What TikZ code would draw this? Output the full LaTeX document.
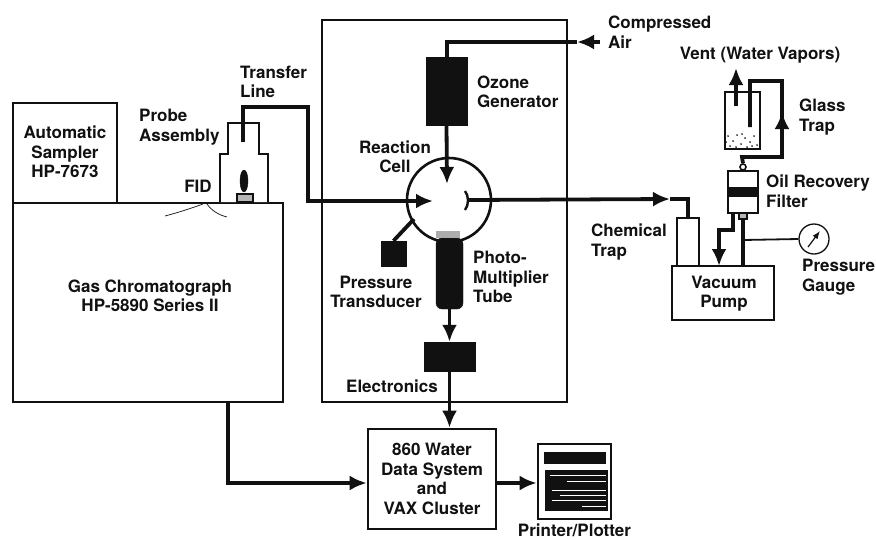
\documentclass[tikz,border=0pt]{standalone}
\usepackage{fontspec}
\setmainfont{TeX Gyre Heros}
\usetikzlibrary{arrows.meta,calc,positioning,shapes.geometric}
\definecolor{ink}{HTML}{111111}
\tikzset{
  lab/.style={font=\bfseries\fontsize{17}{19.5}\selectfont,align=center,text=ink,inner sep=0pt},
  leftlab/.style={lab,align=left,anchor=west},
  basebox/.style={draw=ink,fill=white,line width=1.6pt,inner sep=0pt},
  heavybox/.style={draw=ink,fill=white,line width=2.6pt,inner sep=0pt},
  solidbox/.style={draw=ink,fill=ink,inner sep=0pt},
  dithered/.style={basebox,fill=ink!30},
  pipe/.style={line width=3.8pt,draw=ink},
  arrow/.style={pipe,-{Latex[length=17pt,width=15pt]}},
  thinline/.style={line width=0.7pt,draw=ink},
  grain/.style={circle,fill=ink,inner sep=0.7pt}
}
\newcommand{\boxat}[6][basebox]{\node[#1,minimum width=#5-#3,minimum height=#6-#4] (#2) at ({(#3+#5)/2},{(#4+#6)/2}) {};}
\begin{document}
\begin{tikzpicture}[x=1pt,y=-1pt]
  \useasboundingbox (0,0) rectangle (876,539);
  % boxes
  \boxat{sampler}{13}{103}{117}{203}
  \boxat[heavybox]{gc}{13}{203}{283}{402}
  \boxat[heavybox]{cabinet}{322}{20}{567}{402}
  \boxat[heavybox]{datasys}{368}{429}{496}{529}
  \boxat{pump}{672}{266}{774}{320}
  \boxat{chemtrap}{677}{218}{699}{266}

  % probe and flame
  \draw[basebox] (220,202) -- (220,154) -- (228,154) -- (228,123) -- (259,123) -- (259,154) -- (268,154) -- (268,202);
  \node[solidbox,ellipse,minimum width=8pt,minimum height=22pt] (flame) at (244,181) {};
  \boxat[dithered]{burner}{237}{194}{253}{202}
  \draw[thinline] (165,216) .. controls (180,212) and (192,208) .. (203,204);
  \draw[thinline] (207,204) .. controls (212,211) and (219,215) .. (227,217);

  % cell
  \node[draw=ink,fill=white,circle,line width=2.6pt,minimum size=84pt,inner sep=0pt] (cell) at (449,200) {};
  \boxat[solidbox]{ozone}{426}{57}{467}{125}
  \node[solidbox,rounded corners=6pt,minimum width=27pt,minimum height=71pt] (pmt) at (449.5,273.5) {};
  \node[fill=ink!35,inner sep=0pt,minimum width=24pt,minimum height=7pt] (window) at (448,234) {};
  \boxat[solidbox]{transducer}{381}{241}{406}{266}
  \boxat[solidbox]{electronics}{424}{342}{475}{371}
  \draw[line width=2.4pt,draw=ink] (465,191) .. controls (469,196) and (469,205) .. (465,210);

  % right side parts
  \boxat{filter}{728}{171}{758}{213}
  \boxat[solidbox]{filterband}{728}{187}{758}{196}
  \node[basebox,circle,minimum size=6pt] (filtertop) at (743,167) {};
  \boxat[dithered]{filterfoot}{739}{213}{747}{219}
  \boxat{glasstrap}{725}{92}{760}{149}
  \foreach \gx/\gy in {728/136,733/141,737/135,741/144,745/138,750/142,754/136,757/145,730/146,736/147,747/147,752/146,742/134,726/142}
    \node[grain] (g\gx) at (\gx,\gy) {};
  \node[draw=ink,fill=white,circle,line width=1.3pt,minimum size=30pt,inner sep=0pt] (gauge) at (814,239) {};

  % printer
  \boxat[heavybox]{printer}{538}{444}{611}{519}
  \boxat[solidbox]{printhead}{544}{452}{605}{463}
  \boxat[solidbox]{printbody}{545}{470}{607}{510}
  \foreach \ya/\xa/\xb in {475/550/606,481/567/606,490/552/606,495/560/606,500/552/606,506/582/606}
    \draw[white,line width=0.8pt] (\xa,\ya) -- (\xb,\ya);

  % connectors
  \coordinate (airin) at (600,42);
  \coordinate (airtip) at (577,42);
  \coordinate (airbend) at (447,42);
  \draw[arrow] (airin) -- (airtip);
  \draw[pipe] (airtip) -- (airbend) -- (ozone.north -| airbend);
  \coordinate (ozonetip) at (447,184);
  \draw[arrow] (ozone.south) -- (ozonetip);
  \coordinate (probein) at (243,142);
  \coordinate (celltip) at (433,201);
  \draw[arrow] (probein) -- (243,107) -- (308,107) -- (308,201) -- (celltip);
  \coordinate (celljoint) at (414,219);
  \draw[pipe] (celljoint) -- (transducer.north);
  \draw[arrow] (pmt.south) -- (electronics.north -| pmt.south);
  \draw[arrow] (electronics.south) -- (datasys.north -| electronics.south);
  \draw[arrow] (gc.south -| 228,402) -- (228,483) -- (datasys.west |- 228,483);
  \draw[arrow] (datasys.east |- 0,483) -- (printer.west |- 0,483);
  \coordinate (detout) at (468,200);
  \coordinate (traptip) at (670,199);
  \draw[arrow] (detout) -- (traptip);
  \draw[pipe] (traptip) -- (688,199) -- (chemtrap.north -| 688,0);
  \draw[pipe] (filtertop.north) -- (742,157) -- (782,157) -- (782,81) -- (750,81) -- (750,127);
  \coordinate (flowtip) at (782,112);
  \draw[arrow] (782,130) -- (flowtip);
  \coordinate (ventin) at (736,106);
  \coordinate (ventout) at (736,68);
  \draw[arrow] (ventin) -- (ventout);
  \draw[arrow] (733,213) -- (733,230) -- (719,230) -- (719,266);
  \draw[pipe] (filterfoot.south) -- (743,266);
  \draw[line width=1.8pt,draw=ink] (743,240) -- (gauge.west);
  \draw[line width=1.2pt,draw=ink,-{Latex[length=8pt,width=6pt]}] (808,247) -- (820,231);

  % labels
  \node[lab] (automatic) at (65,152) {Automatic\\Sampler\\HP-7673};
  \node[lab] (fid) at (198,186) {FID};
  \node[leftlab] (probe) at (139,127) {Probe\\Assembly};
  \node[leftlab] (transfer) at (240,82) {Transfer\\Line};
  \node[lab] (chromatograph) at (150,296) {Gas Chromatograph\\HP-5890 Series II};
  \node[lab] (reaction) at (395,157) {Reaction\\Cell};
  \node[leftlab] (compressed) at (608,32) {Compressed\\Air};
  \node[leftlab] (generator) at (477,92) {Ozone\\Generator};
  \node[lab] (transducerlab) at (376,292) {Pressure\\Transducer};
  \node[leftlab] (photo) at (473,277) {Photo-\\Multiplier\\Tube};
  \node[lab] (electronicslab) at (392,386) {Electronics};
  \node[lab] (water) at (432,479) {860 Water\\Data System\\and\\VAX Cluster};
  \node[lab] (plotter) at (574.5,530) {Printer/Plotter};
  \node[leftlab] (chemical) at (591,242) {Chemical\\Trap};
  \node[lab] (vacuum) at (724,293.5) {Vacuum\\Pump};
  \node[lab] (vent) at (760,55) {Vent (Water Vapors)};
  \node[leftlab] (glass) at (799,117) {Glass\\Trap};
  \node[leftlab] (oil) at (766,191) {Oil Recovery\\Filter};
  \node[leftlab] (pressure) at (802,277) {Pressure\\Gauge};
\end{tikzpicture}
\end{document}
